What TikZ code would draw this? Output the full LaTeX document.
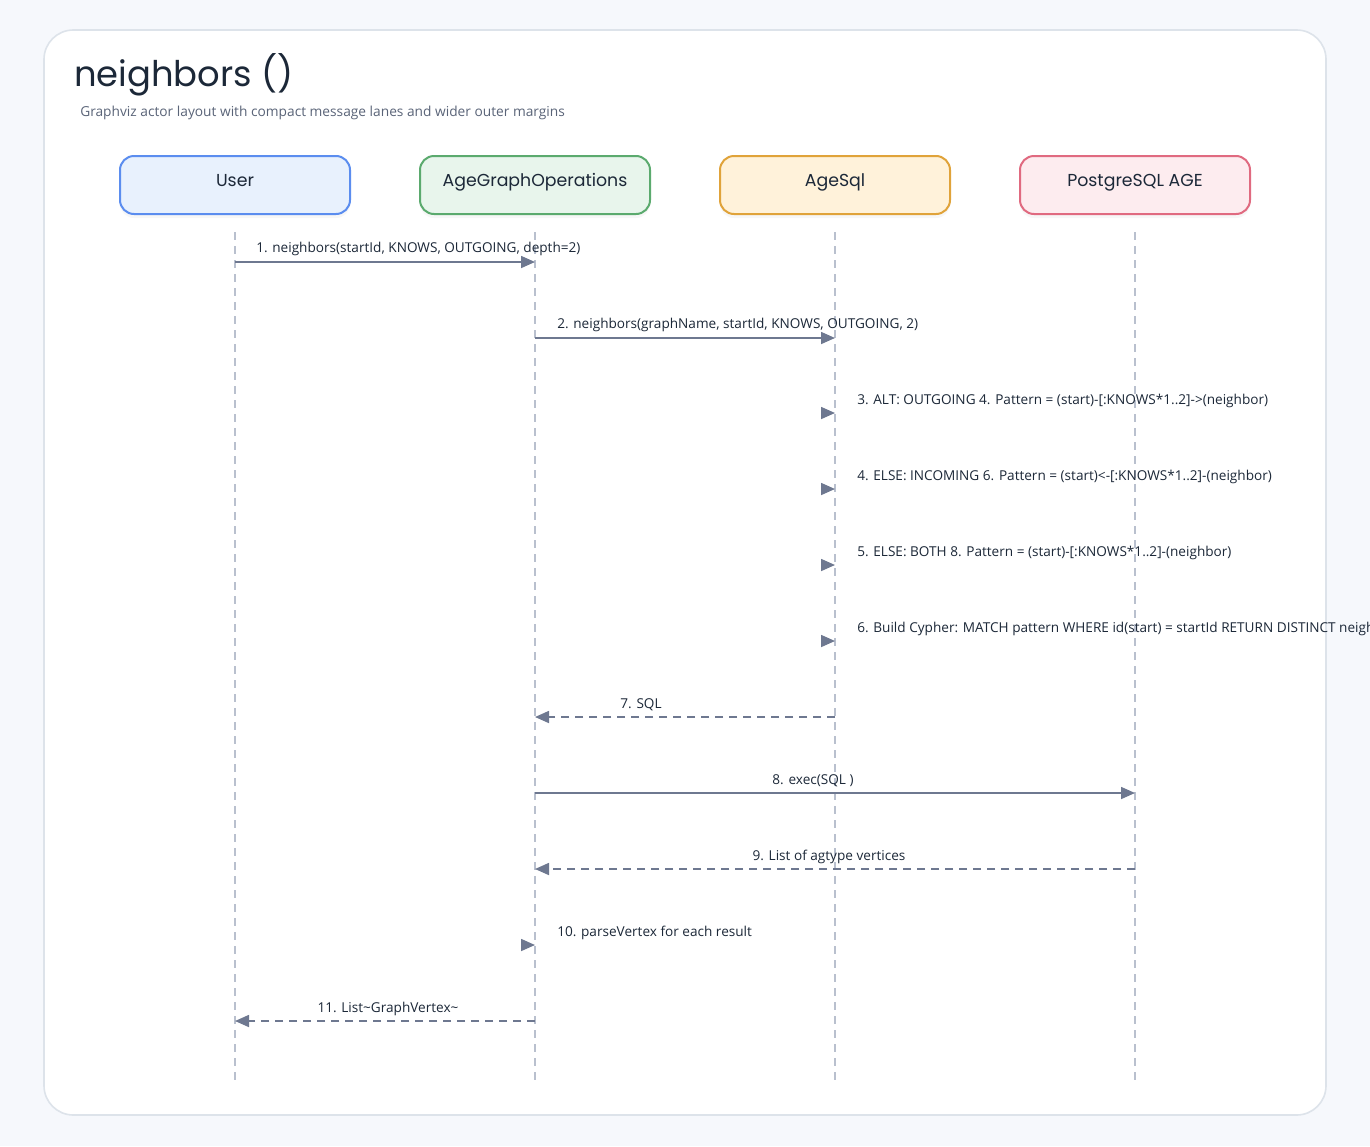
\documentclass[tikz,border=0pt]{standalone}
\usepackage{fontspec}
\setmainfont{Open Sans}
\newfontfamily\titlefont{Poppins}
\newfontfamily\actorfont{Poppins}
\usetikzlibrary{arrows.meta,shadows}
\definecolor{bgc}{HTML}{F6F8FC}
\definecolor{cardline}{HTML}{DDE3EA}
\definecolor{ink}{HTML}{1C2838}
\definecolor{subink}{HTML}{5A6478}
\definecolor{arrowc}{HTML}{6E7890}
\definecolor{lifec}{HTML}{B9C0CE}
\definecolor{ufill}{HTML}{E8F1FD}\definecolor{uline}{HTML}{5B8DEF}
\definecolor{gfill}{HTML}{E8F5EC}\definecolor{gline}{HTML}{5BAA6E}
\definecolor{sfill}{HTML}{FFF2DA}\definecolor{sline}{HTML}{E0A33A}
\definecolor{pfill}{HTML}{FDECEF}\definecolor{pline}{HTML}{E06A80}
\tikzset{
  actor/.style={draw, line width=1.5pt, rounded corners=10.5pt, minimum width=172.5pt, minimum height=43.5pt,
    anchor=center, drop shadow={opacity=0.06, shadow xshift=0pt, shadow yshift=-3pt}},
  actortext/.style={inner sep=0pt, text=ink, font=\actorfont\fontsize{13pt}{15pt}\selectfont},
  lifeline/.style={draw=lifec, line width=1.1pt, dash pattern=on 6pt off 4.5pt},
  msg/.style={draw=arrowc, line width=1.2pt, -{Triangle[length=10.5pt,width=9pt]}},
  ret/.style={msg, dash pattern=on 6pt off 4.5pt},
  tiponly/.style={draw=arrowc, line width=1.2pt, -{Triangle[length=10.5pt,width=9pt]}, shorten <=0pt},
  lbl/.style={anchor=base west, inner sep=0pt, text=ink, font=\fontsize{10.2pt}{12pt}\selectfont},
  clbl/.style={anchor=base, inner sep=0pt, text=ink, font=\fontsize{10.2pt}{12pt}\selectfont},
}
\begin{document}
\begin{tikzpicture}[x=0.75pt,y=-0.75pt]
\useasboundingbox (0,0) rectangle (1370,1146);
\clip (0,0) rectangle (1370,1146);
\fill[bgc] (0,0) rectangle (1370,1146);
\filldraw[fill=white, draw=cardline, line width=1.2pt, rounded corners=22pt] (44,30) rectangle (1326,1115);
\node[anchor=base west, inner sep=0pt, text=ink, font=\titlefont\fontsize{26.5pt}{30pt}\selectfont] (title) at (74,86) {neighbors ()};
\node[anchor=base west, inner sep=0pt, text=subink, font=\fontsize{10.3pt}{12pt}\selectfont] (sub) at (80,116) {Graphviz actor layout with compact message lanes and wider outer margins};

\node[actor, fill=ufill, draw=uline] (u) at (235,185) {};
\node[actor, fill=gfill, draw=gline] (g) at (535,185) {};
\node[actor, fill=sfill, draw=sline] (s) at (835,185) {};
\node[actor, fill=pfill, draw=pline] (p) at (1135,185) {};
\node[actortext, anchor=base] (ut) at (235,186) {User};
\node[actortext, anchor=base] (gt) at (535,186) {AgeGraphOperations};
\node[actortext, anchor=base] (st) at (835,186) {AgeSql};
\node[actortext, anchor=base] (pt) at (1135,186) {PostgreSQL AGE};

\coordinate (top) at (0,232);
\coordinate (bot) at (0,1080);
\foreach \a in {u,g,s,p} {\draw[lifeline] (\a |- top) -- (\a |- bot);}

\foreach \i/\yy in {1/262,2/338,3/413,4/489,5/565,6/641,7/717,8/793,9/869,10/945,11/1021} {\coordinate (y\i) at (0,\yy);}
\coordinate (tip3) at (821,0);
\coordinate (tip10) at (521,0);

% 1
\draw[msg] (u |- y1) -- (g |- y1);
\node[lbl] at (256,252) {1. neighbors(startId, KNOWS, OUTGOING, depth=2)};
% 2
\draw[msg] (g |- y2) -- (s |- y2);
\node[lbl] at (557,328) {2. neighbors(graphName, startId, KNOWS, OUTGOING, 2)};
% 3-6 self
\draw[tiponly] (tip3 |- y3) -- (s |- y3);
\node[lbl] at (857,404) {3. ALT: OUTGOING 4. Pattern = (start)-[:KNOWS*1..2]->(neighbor)};
\draw[tiponly] (tip3 |- y4) -- (s |- y4);
\node[lbl] at (857,480) {4. ELSE: INCOMING 6. Pattern = (start)<-[:KNOWS*1..2]-(neighbor)};
\draw[tiponly] (tip3 |- y5) -- (s |- y5);
\node[lbl] at (857,556) {5. ELSE: BOTH 8. Pattern = (start)-[:KNOWS*1..2]-(neighbor)};
\draw[tiponly] (tip3 |- y6) -- (s |- y6);
\node[lbl] at (857,632) {6. Build Cypher: MATCH pattern WHERE id(start) = startId RETURN DISTINCT neighbor};
% 7
\draw[ret] (s |- y7) -- (g |- y7);
\node[clbl] at (641,708) {7. SQL};
% 8
\draw[msg] (g |- y8) -- (p |- y8);
\node[clbl] at (813,784) {8. exec(SQL )};
% 9
\draw[ret] (p |- y9) -- (g |- y9);
\node[clbl] at (829,860) {9. List of agtype vertices};
% 10
\draw[tiponly] (tip10 |- y10) -- (g |- y10);
\node[lbl] at (557,936) {10. parseVertex for each result};
% 11
\draw[ret] (g |- y11) -- (u |- y11);
\node[clbl] at (388,1012) {11. List\textasciitilde GraphVertex\textasciitilde};
\end{tikzpicture}
\end{document}
